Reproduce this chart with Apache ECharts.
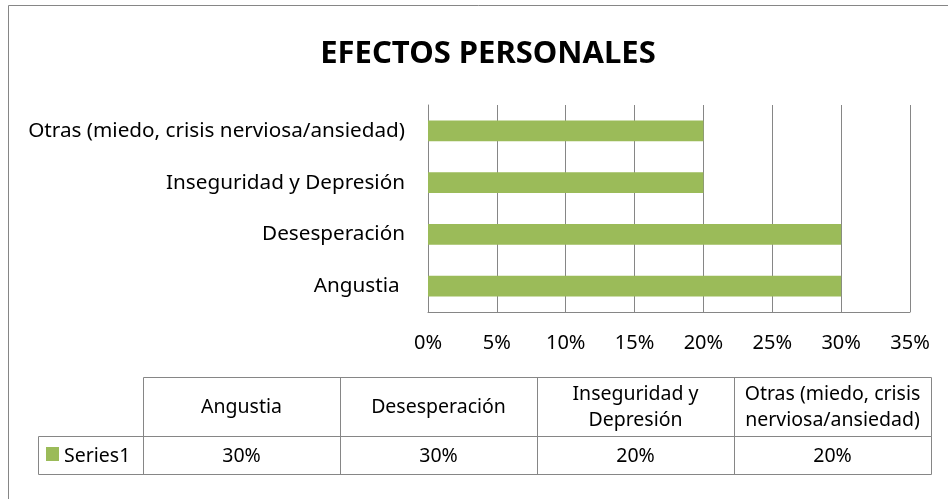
<!DOCTYPE html>
<html>
<head>
<meta charset="utf-8">
<script src="https://cdn.jsdelivr.net/npm/echarts@6/dist/echarts.min.js"></script>
<style>
html,body{margin:0;padding:0;background:#fff;}
#main{width:948px;height:499px;}
</style>
</head>
<body>
<div id="main"></div>
<script>
var title = 'EFECTOS PERSONALES';
var categories = ['Angustia', 'Desesperación', 'Inseguridad y Depresión', 'Otras (miedo, crisis nerviosa/ansiedad)'];
var axisLabels = ['Angustia ', 'Desesperación', 'Inseguridad y Depresión', 'Otras (miedo, crisis nerviosa/ansiedad)'];
var tableHeaders = ['Angustia', 'Desesperación', 'Inseguridad y\nDepresión', 'Otras (miedo, crisis\nnerviosa/ansiedad)'];
var seriesName = 'Series1';
var values = [0.30, 0.30, 0.20, 0.20];
var xTicks = [0, 0.05, 0.10, 0.15, 0.20, 0.25, 0.30, 0.35];

var FONT = '"Noto Sans", sans-serif';
var GRAY = '#868686';
var GREEN = '#9BBB59';

var chart = echarts.init(document.getElementById('main'), null, {renderer: 'canvas'});

function pct(v) { return Math.round(v * 100) + '%'; }

// Data table below the chart (built from the arrays)
var tblLeft = 143, tblRight = 931, hdrTop = 377, rowTop = 436, rowBottom = 474, legLeft = 38;
var colW = (tblRight - tblLeft) / categories.length;
var g = [];
// outer chart border
g.push({type: 'rect', shape: {x: 8.5, y: 5.5, width: 1000, height: 600}, style: {fill: null, stroke: GRAY, lineWidth: 1}, silent: true});
// header row box
g.push({type: 'rect', shape: {x: tblLeft + 0.5, y: hdrTop + 0.5, width: tblRight - tblLeft, height: rowTop - hdrTop}, style: {fill: null, stroke: GRAY, lineWidth: 1}});
// value row box incl. legend cell
g.push({type: 'rect', shape: {x: legLeft + 0.5, y: rowTop + 0.5, width: tblRight - legLeft, height: rowBottom - rowTop}, style: {fill: null, stroke: GRAY, lineWidth: 1}});
// legend cell divider
g.push({type: 'line', shape: {x1: tblLeft + 0.5, y1: rowTop, x2: tblLeft + 0.5, y2: rowBottom}, style: {stroke: GRAY, lineWidth: 1}});
for (var i = 1; i < categories.length; i++) {
  var x = Math.round(tblLeft + colW * i) + 0.5;
  g.push({type: 'line', shape: {x1: x, y1: hdrTop, x2: x, y2: rowBottom}, style: {stroke: GRAY, lineWidth: 1}});
}
for (var j = 0; j < categories.length; j++) {
  var cx = tblLeft + colW * (j + 0.5);
  g.push({type: 'text', x: cx, y: (hdrTop + rowTop) / 2 + 1, style: {text: tableHeaders[j], font: '19.5px ' + FONT, fill: '#000', align: 'center', verticalAlign: 'middle', lineHeight: 26}});
  g.push({type: 'text', x: cx, y: (rowTop + rowBottom) / 2 + 1, style: {text: pct(values[j]), font: '19.5px ' + FONT, fill: '#000', align: 'center', verticalAlign: 'middle'}});
}
// legend key
g.push({type: 'rect', shape: {x: 46, y: 447, width: 13, height: 14}, style: {fill: GREEN}});
g.push({type: 'text', x: 64, y: (rowTop + rowBottom) / 2 + 1, style: {text: seriesName, font: '19.5px ' + FONT, fill: '#000', align: 'left', verticalAlign: 'middle'}});

var option = {
  backgroundColor: '#fff',
  animation: false,
  title: {
    text: title, left: 483, top: 34, textAlign: 'center',
    textStyle: {fontFamily: FONT, fontWeight: 'bold', fontSize: 31, color: '#000'}
  },
  grid: {left: 428, right: 38, top: 105, bottom: 187, containLabel: false},
  xAxis: {
    type: 'value', min: 0, max: 0.35, interval: 0.05,
    axisLine: {show: true, lineStyle: {color: GRAY, width: 1}},
    axisTick: {show: false},
    splitLine: {show: true, lineStyle: {color: GRAY, width: 1}},
    axisLabel: {margin: 21, fontFamily: FONT, fontSize: 20, color: '#000', formatter: function (v) { return pct(v); }}
  },
  yAxis: {
    type: 'category', data: categories,
    axisLine: {show: true, lineStyle: {color: GRAY, width: 1}},
    axisTick: {show: false},
    axisLabel: {margin: 23, fontFamily: FONT, fontSize: 20.7, color: '#000', formatter: function (v, idx) { return axisLabels[idx]; }}
  },
  series: [{
    name: seriesName, type: 'bar', data: values, barWidth: '40%',
    itemStyle: {color: GREEN}
  }],
  graphic: g
};
chart.setOption(option);
</script>
</body>
</html>
